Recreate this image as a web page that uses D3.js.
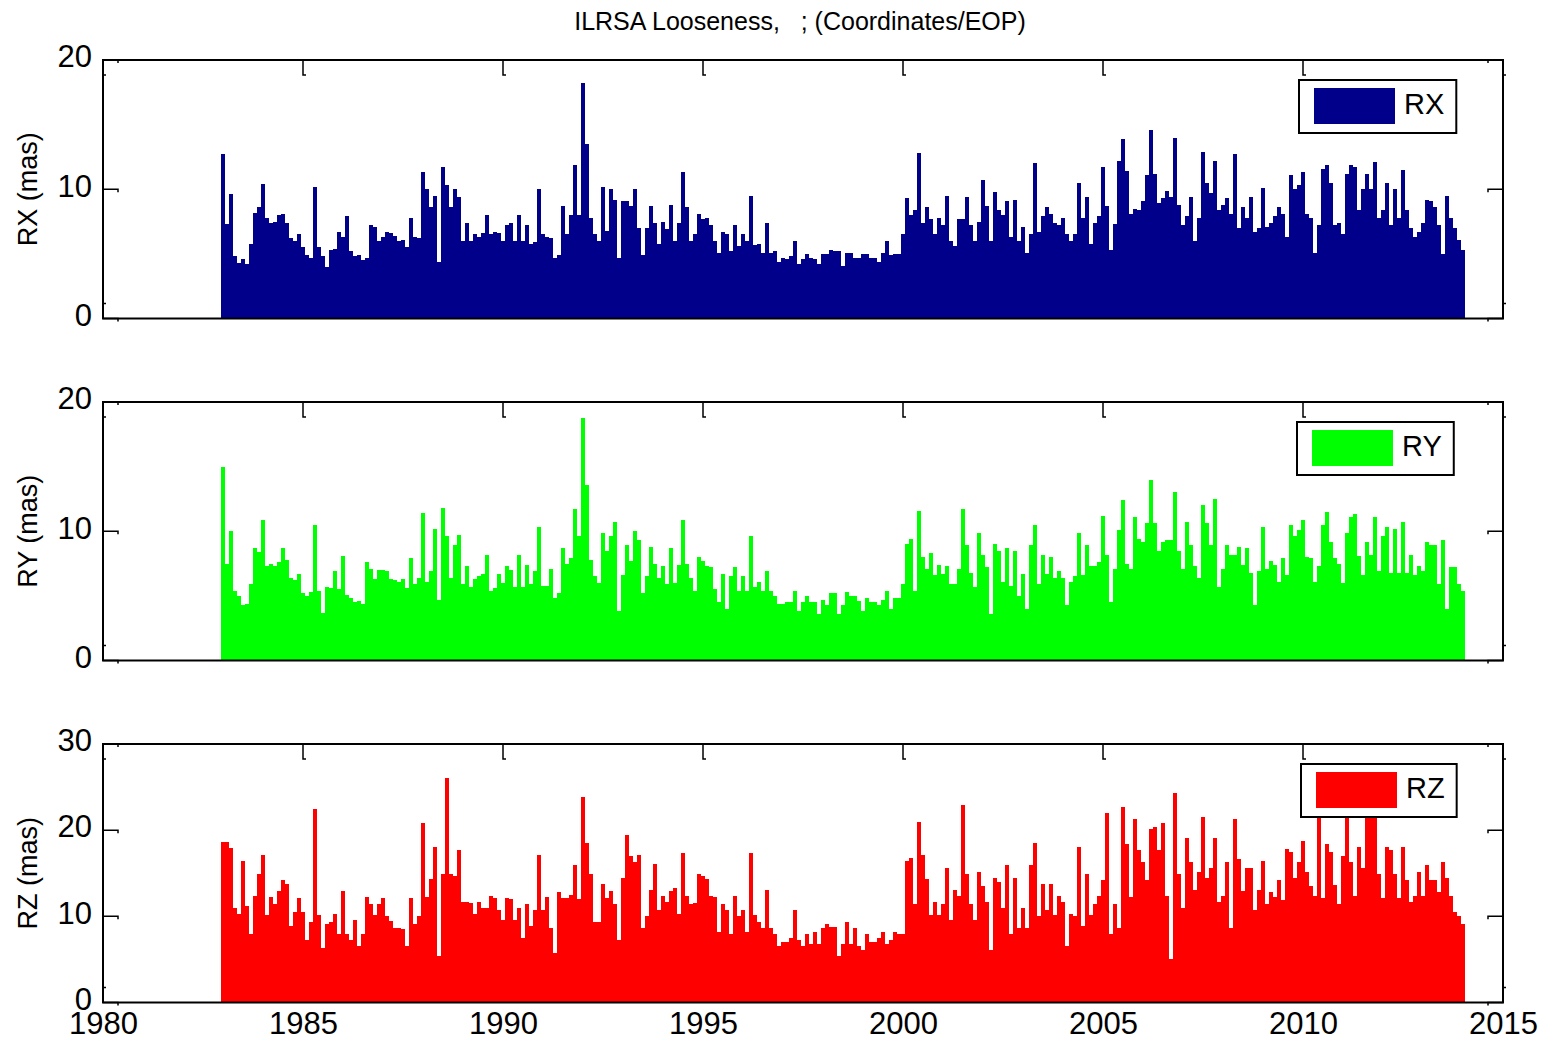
<!DOCTYPE html>
<html>
<head>
<meta charset="utf-8">
<script src="https://cdn.jsdelivr.net/npm/d3@7"></script>
<style>
  html, body { margin: 0; padding: 0; background: #fff; }
  svg { display: block; font-family: "Liberation Sans", Arial, Helvetica, sans-serif; }
</style>
</head>
<body>
<div id="chart"></div>
<script>
// Looseness series, one value per 0.1 yr bin starting at 1982.95
const binStart = 1982.95;
const binWidth = 0.1;

const rx = [
  12.7, 7.3, 9.6, 4.8, 4.3, 4.6, 4.2, 5.8, 8.2, 8.6, 10.4, 7.8, 7.4, 7.5, 8.0, 8.1, 7.4, 6.2, 6.0, 6.5,
  5.5, 4.9, 4.7, 10.2, 5.5, 4.8, 4.0, 5.3, 5.4, 6.7, 6.3, 7.9, 5.2, 4.8, 4.9, 4.5, 4.7, 7.2, 7.1, 6.0,
  6.3, 6.7, 6.6, 6.4, 6.0, 6.1, 5.5, 7.8, 6.3, 6.2,
  11.3, 10.0, 8.6, 9.5, 4.4, 11.7, 10.3, 8.6, 10.0, 9.4, 6.0, 7.4, 6.0, 6.5, 6.3, 6.6, 8.0, 6.5, 6.7, 6.6,
  6.0, 7.2, 7.4, 6.0, 8.0, 6.0, 7.2, 5.8, 5.9, 10.0, 6.5, 6.3, 6.2, 4.7, 4.9, 8.7, 6.5, 8.0, 11.9, 8.0,
  18.2, 13.5, 7.8, 6.5, 6.0, 10.2, 6.8, 10.0, 9.2, 4.7, 9.1,
  9.1, 8.7, 10.0, 7.0, 4.9, 7.0, 8.7, 7.4, 5.8, 7.5, 6.9, 8.8, 6.0, 7.4, 11.3, 8.6, 6.0, 6.5, 8.1, 7.7,
  7.8, 7.2, 6.0, 5.1, 6.7, 6.5, 5.2, 7.2, 5.6, 6.5, 6.0, 9.5, 5.7, 5.8, 5.1, 7.4, 5.1, 5.2, 4.4, 4.7,
  4.6, 4.8, 6.0, 4.2, 4.6, 5.0, 4.7, 4.6, 4.2, 5.0, 5.0, 5.3,
  5.2, 5.2, 4.1, 5.1, 5.1, 4.7, 4.7, 5.0, 5.0, 4.7, 4.7, 4.4, 5.1, 6.0, 4.9, 5.0, 5.0, 6.5, 9.3, 8.0,
  8.4, 12.8, 7.4, 8.6, 7.7, 6.5, 7.8, 7.2, 9.5, 6.0, 5.6, 7.7, 7.7, 9.4, 7.2, 6.0, 7.5, 10.7, 8.7, 6.0,
  9.8, 8.4, 8.0, 9.1, 6.3, 9.2, 6.0, 7.1, 5.1, 6.5, 12.0, 6.7, 7.9,
  8.6, 8.1, 7.4, 7.2, 7.8, 6.5, 6.0, 6.5, 10.5, 7.8, 9.4, 5.8, 7.4, 7.9, 11.7, 8.7, 5.3, 7.3, 12.2, 13.9,
  11.4, 8.1, 8.5, 8.4, 9.1, 11.1, 14.6, 11.2, 8.9, 9.3, 9.9, 9.4, 14.0, 8.8, 7.2, 7.9, 9.4, 6.0, 7.8, 12.9,
  10.5, 9.7, 12.2, 8.4, 8.8, 9.3, 8.1, 12.7, 7.0, 8.6,
  7.8, 9.4, 6.7, 7.0, 10.1, 7.1, 7.4, 7.9, 8.6, 8.1, 6.3, 11.1, 10.0, 10.3, 11.3, 8.1, 7.8, 5.1, 7.2, 11.6,
  11.9, 10.5, 7.2, 7.4, 6.5, 11.2, 11.9, 11.7, 8.4, 10.0, 11.2, 10.0, 12.1, 7.8, 8.4, 10.5, 7.2, 10.0, 7.8, 11.5,
  8.4, 7.0, 6.3, 6.7, 7.4, 9.2, 9.1, 8.6, 7.2, 5.0, 9.5, 7.8, 7.0, 6.1, 5.3
];

const ry = [
  15.0, 7.5, 10.0, 5.4, 5.0, 4.3, 4.4, 5.9, 8.7, 8.4, 10.9, 7.3, 7.5, 7.3, 7.6, 8.7, 7.8, 6.4, 6.2, 6.7,
  5.2, 5.0, 5.3, 10.5, 5.4, 3.7, 5.7, 5.6, 6.9, 5.5, 8.1, 5.1, 4.8, 4.5, 4.6, 4.4, 7.6, 7.1, 6.3, 7.0,
  7.0, 6.9, 6.3, 6.2, 6.1, 6.3, 5.6, 7.9, 5.9, 6.4,
  11.4, 6.1, 6.9, 10.2, 4.7, 11.8, 9.6, 6.4, 8.9, 9.7, 5.9, 7.3, 5.7, 6.3, 6.5, 6.7, 8.2, 5.4, 5.6, 6.7,
  6.0, 7.3, 7.0, 5.7, 8.2, 5.7, 7.4, 5.9, 6.9, 10.3, 5.8, 5.8, 7.1, 4.8, 5.2, 8.7, 7.5, 7.9, 11.7, 9.6,
  18.8, 13.6, 7.8, 6.5, 6.0, 9.9, 8.5, 9.6, 10.7, 3.8, 6.6,
  8.9, 7.7, 10.0, 9.3, 5.2, 6.5, 8.8, 7.5, 6.4, 7.3, 5.9, 8.7, 6.0, 7.4, 10.9, 7.5, 6.4, 5.4, 8.0, 7.7,
  7.3, 7.2, 5.5, 4.5, 6.7, 4.0, 6.5, 7.2, 5.4, 6.5, 5.4, 9.6, 5.7, 6.1, 5.4, 6.9, 5.4, 5.0, 4.4, 4.4,
  4.5, 4.5, 5.4, 3.8, 4.5, 5.0, 4.5, 4.5, 3.6, 4.7, 4.3, 5.2,
  5.2, 3.6, 4.3, 5.3, 5.0, 5.0, 4.6, 3.8, 4.8, 4.5, 4.5, 4.3, 4.7, 5.4, 4.0, 4.8, 4.8, 5.9, 9.0, 9.4,
  5.4, 11.6, 8.0, 7.1, 8.3, 6.6, 7.4, 6.7, 7.3, 5.9, 5.9, 7.1, 11.7, 8.9, 6.8, 5.7, 9.9, 8.2, 7.2, 3.6,
  9.0, 8.5, 6.1, 8.7, 5.8, 8.5, 5.0, 6.7, 4.0, 8.9, 10.5, 5.9, 8.2,
  6.7, 8.0, 6.4, 6.9, 6.4, 4.3, 6.1, 6.5, 9.9, 6.6, 8.9, 7.3, 7.3, 7.6, 11.2, 8.2, 4.5, 7.1, 10.1, 12.4,
  7.5, 7.1, 11.1, 9.4, 9.2, 10.6, 14.0, 10.6, 8.5, 9.2, 9.3, 9.3, 13.0, 8.5, 7.1, 10.7, 8.9, 7.3, 6.4, 12.0,
  10.6, 8.9, 12.5, 5.7, 7.1, 8.9, 8.2, 8.2, 8.8, 7.4,
  8.7, 6.8, 4.3, 6.9, 10.3, 7.1, 7.7, 7.4, 6.1, 7.9, 6.6, 10.5, 9.6, 10.1, 10.9, 8.0, 7.9, 6.1, 7.3, 10.5,
  11.5, 9.2, 7.9, 7.5, 6.0, 9.9, 11.1, 11.3, 8.1, 6.6, 9.2, 8.2, 11.1, 6.9, 9.6, 10.3, 6.8, 10.2, 6.8, 10.7,
  6.8, 8.2, 6.6, 7.3, 6.9, 9.2, 8.9, 8.9, 5.9, 9.3, 4.0, 7.2, 7.2, 5.9, 5.4
];

const rz = [
  18.6, 18.6, 17.9, 11.0, 10.3, 16.4, 11.2, 8.0, 12.4, 14.9, 17.1, 10.1, 12.2, 11.4, 12.9, 14.2, 13.8, 8.9, 10.5, 12.1,
  10.5, 7.2, 9.3, 22.5, 10.1, 6.3, 9.1, 9.3, 10.3, 7.9, 12.9, 8.0, 7.3, 9.6, 6.6, 7.9, 12.2, 11.4, 10.1, 11.4,
  12.1, 10.0, 9.5, 8.7, 8.7, 8.5, 6.5, 12.1, 9.1, 10.0,
  20.8, 12.2, 14.3, 18.0, 5.4, 14.9, 26.0, 14.9, 14.7, 17.7, 11.7, 11.7, 11.5, 10.3, 11.7, 11.0, 11.0, 12.4, 12.1, 10.7,
  9.6, 12.1, 12.0, 9.6, 11.0, 7.5, 11.4, 8.9, 10.7, 17.1, 10.7, 12.2, 8.7, 5.8, 12.8, 12.1, 12.1, 12.5, 15.9, 12.0,
  23.8, 18.5, 14.9, 9.4, 9.3, 13.8, 12.1, 12.9, 11.4, 7.2, 14.5,
  19.4, 17.0, 16.3, 17.1, 8.6, 10.0, 13.1, 16.1, 10.7, 12.4, 11.7, 12.9, 13.3, 10.3, 17.3, 12.4, 11.4, 11.5, 14.9, 14.7,
  14.3, 12.4, 12.2, 8.2, 11.4, 10.7, 8.0, 12.4, 10.0, 10.7, 8.2, 17.3, 10.1, 9.3, 8.6, 13.1, 8.6, 8.0, 6.5, 7.0,
  7.0, 7.5, 10.7, 7.2, 6.5, 8.0, 6.8, 8.2, 6.8, 8.6, 9.1, 8.8,
  8.8, 5.4, 6.8, 9.3, 6.8, 8.6, 6.5, 6.1, 7.9, 7.0, 7.0, 7.5, 8.2, 6.8, 7.2, 8.2, 7.9, 7.9, 16.4, 16.8,
  11.4, 21.0, 17.1, 14.3, 10.1, 11.7, 10.1, 11.4, 15.6, 9.6, 13.1, 12.4, 22.9, 14.9, 11.4, 9.6, 15.2, 13.5, 11.7, 6.1,
  14.5, 14.0, 11.0, 15.9, 7.9, 14.5, 8.6, 11.0, 8.6, 15.9, 18.5, 10.0, 13.8,
  10.7, 13.8, 10.1, 12.4, 11.7, 6.5, 10.3, 10.0, 18.0, 8.9, 14.9, 10.1, 11.4, 12.4, 14.2, 22.0, 7.9, 11.4, 8.6, 22.7,
  18.4, 12.2, 21.3, 17.7, 16.3, 14.2, 20.1, 20.4, 17.7, 20.8, 12.4, 5.1, 24.3, 14.9, 11.0, 19.1, 16.3, 13.1, 15.2, 21.5,
  14.5, 15.6, 19.1, 11.7, 12.4, 16.3, 8.6, 21.3, 16.6, 12.9,
  15.6, 15.6, 10.7, 13.1, 16.4, 11.4, 12.8, 12.2, 14.2, 11.9, 17.8, 17.5, 14.5, 16.3, 18.7, 15.2, 13.5, 12.4, 23.0, 12.1,
  18.4, 17.5, 13.6, 11.4, 17.0, 24.0, 16.3, 12.4, 18.0, 15.6, 24.5, 22.5, 23.5, 14.9, 12.1, 18.0, 17.7, 14.9, 12.1, 18.0,
  14.2, 11.7, 12.4, 15.2, 12.4, 15.9, 14.2, 14.2, 12.8, 16.3, 14.5, 12.4, 10.5, 10.0, 9.1
];

const seriesNames = ['RX', 'RY', 'RZ'];
const seriesData = [rx, ry, rz];
const yMaxes = [20, 20, 30];
const yTickValues = [[0, 10, 20], [0, 10, 20], [0, 10, 20, 30]];
const xTickValues = [1980, 1985, 1990, 1995, 2000, 2005, 2010, 2015];
const title = 'ILRSA Looseness,   ; (Coordinates/EOP)';

// layout
const width = 1546, height = 1041;
const left = 103, right = 1503;
const panelTops = [60, 402, 744];
const panelH = 258.5;
const colors = ['#00008b', '#00ff00', '#ff0000'];
const legendLefts = [1299, 1297, 1301];
const tickLen = 15;
const tickFont = '31px';

const svg = d3.select('#chart').append('svg')
  .attr('width', width)
  .attr('height', height);

svg.append('rect').attr('width', width).attr('height', height).attr('fill', '#fff');

svg.append('text')
  .attr('x', 800)
  .attr('y', 30)
  .attr('text-anchor', 'middle')
  .attr('font-size', '25px')
  .attr('fill', '#000')
  .style('white-space', 'pre')
  .attr('xml:space', 'preserve')
  .text(title);

const x = d3.scaleLinear().domain([1980, 2015]).range([left, right]);
const barW = x(binStart + binWidth) - x(binStart);

seriesNames.forEach((name, k) => {
  const top = panelTops[k];
  const bottom = top + panelH;
  const y = d3.scaleLinear().domain([0, yMaxes[k]]).range([bottom, top]);
  const g = svg.append('g');

  // ticks (drawn under the bars, like matlab's bottom layer)
  const ticks = g.append('g').attr('fill', 'none').attr('stroke', '#000').attr('stroke-width', 1.5);
  xTickValues.forEach(t => {
    const xx = x(t);
    ticks.append('path').attr('d', `M${xx},${bottom} V${bottom - tickLen} h3`);
    ticks.append('path').attr('d', `M${xx},${top} V${top + tickLen} h3`);
  });
  yTickValues[k].forEach(t => {
    const yy = y(t);
    ticks.append('path').attr('d', `M${left},${yy} H${left + tickLen} v3`);
    ticks.append('path').attr('d', `M${right},${yy} H${right - tickLen} v3`);
  });

  // bars
  g.append('g')
    .selectAll('rect')
    .data(seriesData[k])
    .join('rect')
    .attr('x', (d, i) => x(binStart + i * binWidth))
    .attr('width', barW)
    .attr('y', d => y(d))
    .attr('height', d => y(0) - y(d))
    .attr('fill', colors[k])
    .attr('shape-rendering', 'crispEdges');

  // axes frame
  g.append('rect')
    .attr('x', left).attr('y', top)
    .attr('width', right - left).attr('height', bottom - top)
    .attr('fill', 'none').attr('stroke', '#000').attr('stroke-width', 2);

  // y tick labels
  const yAxis = g.append('g')
    .attr('transform', `translate(${left},0)`)
    .call(d3.axisLeft(y).tickValues(yTickValues[k]).tickSize(0).tickPadding(11).tickFormat(d3.format('d')));
  yAxis.select('.domain').remove();
  yAxis.selectAll('text')
    .attr('font-size', tickFont)
    .attr('font-family', '"Liberation Sans", Arial, sans-serif')
    .attr('fill', '#000')
    .attr('dy', '0.22em');

  // x tick labels only on the bottom panel
  if (k === seriesNames.length - 1) {
    const xAxis = g.append('g')
      .attr('transform', `translate(0,${bottom})`)
      .call(d3.axisBottom(x).tickValues(xTickValues).tickSize(0).tickPadding(10).tickFormat(d3.format('d')));
    xAxis.select('.domain').remove();
    xAxis.selectAll('text')
      .attr('font-size', tickFont)
      .attr('font-family', '"Liberation Sans", Arial, sans-serif')
      .attr('fill', '#000')
      .attr('dy', '0.68em');
  }

  // y label
  g.append('text')
    .attr('transform', `translate(37,${(top + bottom) / 2}) rotate(-90)`)
    .attr('text-anchor', 'middle')
    .attr('font-size', '27px')
    .attr('fill', '#000')
    .text(`${name} (mas)`);

  // legend
  const lx = legendLefts[k];
  const ly = top + 20;
  const leg = g.append('g');
  const box = leg.append('rect')
    .attr('x', lx).attr('y', ly)
    .attr('height', 53)
    .attr('fill', '#fff').attr('stroke', '#000').attr('stroke-width', 2);
  leg.append('rect')
    .attr('x', lx + 15).attr('y', ly + 8)
    .attr('width', 81).attr('height', 36)
    .attr('fill', colors[k]);
  const lt = leg.append('text')
    .attr('x', lx + 105).attr('y', ly + 34)
    .attr('font-size', '29px')
    .attr('fill', '#000')
    .text(name);
  const tw = lt.node().getComputedTextLength();
  box.attr('width', 105 + tw + 12);
});
</script>
</body>
</html>
